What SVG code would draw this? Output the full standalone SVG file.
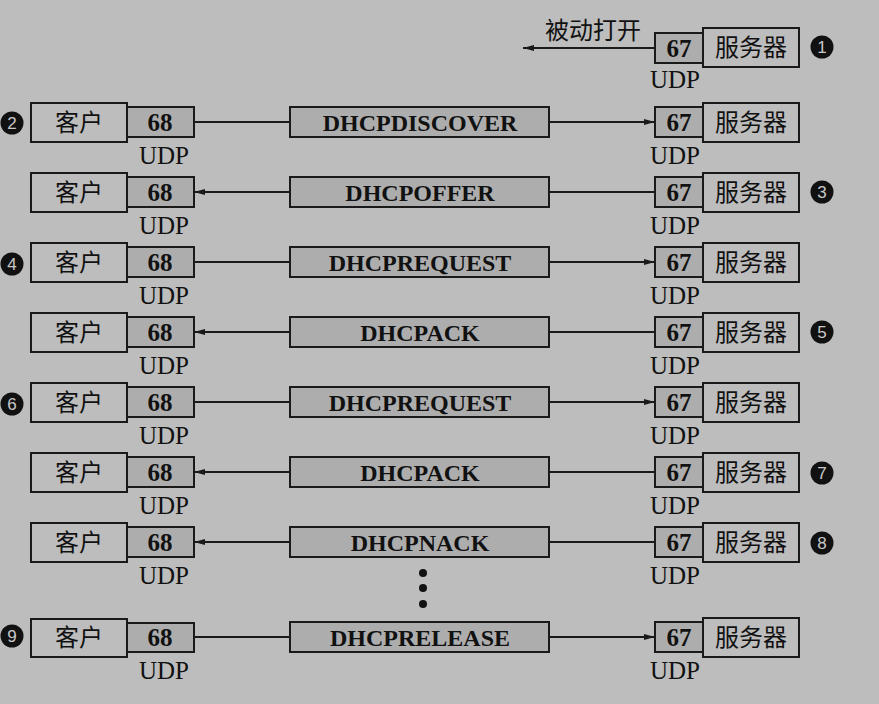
<svg xmlns="http://www.w3.org/2000/svg" width="879" height="704" viewBox="0 0 879 704">
<defs>
<style>
.bg{fill:#bdbdbd}
.box{fill:#bdbdbd;stroke:#1a1a1a;stroke-width:2}
.port{fill:#adadad;stroke:#1a1a1a;stroke-width:2}
.msg{fill:#adadad;stroke:#1a1a1a;stroke-width:2}
.ln{stroke:#1a1a1a;stroke-width:2;fill:none}
.cjk{font-family:"Noto Sans CJK SC","Noto Sans CJK JP",sans-serif;font-size:24px;fill:#111;text-anchor:middle}
.num{font-family:"Liberation Serif",serif;font-size:25px;font-weight:bold;fill:#111;text-anchor:middle}
.udp{font-family:"Liberation Serif",serif;font-size:25px;fill:#111;text-anchor:middle}
.mt{font-family:"Liberation Serif",serif;font-size:24px;font-weight:bold;fill:#111;text-anchor:middle}
.circ{fill:#111}
.cn{font-family:"Liberation Sans",sans-serif;font-size:17px;fill:#c8c8c8;text-anchor:middle}
</style>
<marker id="ah" markerUnits="userSpaceOnUse" markerWidth="12" markerHeight="8" refX="11" refY="4" orient="auto">
<path d="M0,1 L11,4 L0,7 Z" fill="#1a1a1a"/>
</marker>
</defs>
<rect class="bg" x="0" y="0" width="879" height="704"/>

<g id="connectors">
<line class="ln" x1="655" y1="48" x2="523" y2="48" marker-end="url(#ah)"/>
<line class="ln" x1="194" y1="122" x2="290" y2="122"/>
<line class="ln" x1="549" y1="122" x2="655" y2="122" marker-end="url(#ah)"/>
<line class="ln" x1="655" y1="192" x2="549" y2="192"/>
<line class="ln" x1="290" y1="192" x2="194" y2="192" marker-end="url(#ah)"/>
<line class="ln" x1="194" y1="262" x2="290" y2="262"/>
<line class="ln" x1="549" y1="262" x2="655" y2="262" marker-end="url(#ah)"/>
<line class="ln" x1="655" y1="332" x2="549" y2="332"/>
<line class="ln" x1="290" y1="332" x2="194" y2="332" marker-end="url(#ah)"/>
<line class="ln" x1="194" y1="402" x2="290" y2="402"/>
<line class="ln" x1="549" y1="402" x2="655" y2="402" marker-end="url(#ah)"/>
<line class="ln" x1="655" y1="472" x2="549" y2="472"/>
<line class="ln" x1="290" y1="472" x2="194" y2="472" marker-end="url(#ah)"/>
<line class="ln" x1="655" y1="542" x2="549" y2="542"/>
<line class="ln" x1="290" y1="542" x2="194" y2="542" marker-end="url(#ah)"/>
<line class="ln" x1="194" y1="637" x2="290" y2="637"/>
<line class="ln" x1="549" y1="637" x2="655" y2="637" marker-end="url(#ah)"/>
</g>

<g id="passive-open">
<text class="cjk" x="593" y="39">被动打开</text>
<rect class="port" x="655" y="33" width="48" height="30"/>
<text class="num" x="679" y="57">67</text>
<rect class="box" x="703" y="28" width="96" height="39"/>
<text class="cjk" x="751" y="56">服务器</text>
<text class="udp" x="675" y="88">UDP</text>
</g>

<g id="row1">
<g id="client1"><rect class="box" x="31" y="103" width="96" height="39"/><text class="cjk" x="79" y="131">客户</text></g>
<g id="cport1"><rect class="port" x="127" y="107" width="67" height="30"/><text class="num" x="160" y="131">68</text><text class="udp" x="164" y="164">UDP</text></g>
<g id="msg1"><rect class="msg" x="290" y="107" width="259" height="30"/><text class="mt" x="420" y="131">DHCPDISCOVER</text></g>
<g id="sport1"><rect class="port" x="655" y="107" width="48" height="30"/><text class="num" x="679" y="131">67</text><text class="udp" x="675" y="164">UDP</text></g>
<g id="server1"><rect class="box" x="703" y="103" width="96" height="39"/><text class="cjk" x="751" y="131">服务器</text></g>
</g>

<g id="row2">
<g id="client2"><rect class="box" x="31" y="173" width="96" height="39"/><text class="cjk" x="79" y="201">客户</text></g>
<g id="cport2"><rect class="port" x="127" y="177" width="67" height="30"/><text class="num" x="160" y="201">68</text><text class="udp" x="164" y="234">UDP</text></g>
<g id="msg2"><rect class="msg" x="290" y="177" width="259" height="30"/><text class="mt" x="420" y="201">DHCPOFFER</text></g>
<g id="sport2"><rect class="port" x="655" y="177" width="48" height="30"/><text class="num" x="679" y="201">67</text><text class="udp" x="675" y="234">UDP</text></g>
<g id="server2"><rect class="box" x="703" y="173" width="96" height="39"/><text class="cjk" x="751" y="201">服务器</text></g>
</g>

<g id="row3">
<g id="client3"><rect class="box" x="31" y="243" width="96" height="39"/><text class="cjk" x="79" y="271">客户</text></g>
<g id="cport3"><rect class="port" x="127" y="247" width="67" height="30"/><text class="num" x="160" y="271">68</text><text class="udp" x="164" y="304">UDP</text></g>
<g id="msg3"><rect class="msg" x="290" y="247" width="259" height="30"/><text class="mt" x="420" y="271">DHCPREQUEST</text></g>
<g id="sport3"><rect class="port" x="655" y="247" width="48" height="30"/><text class="num" x="679" y="271">67</text><text class="udp" x="675" y="304">UDP</text></g>
<g id="server3"><rect class="box" x="703" y="243" width="96" height="39"/><text class="cjk" x="751" y="271">服务器</text></g>
</g>

<g id="row4">
<g id="client4"><rect class="box" x="31" y="313" width="96" height="39"/><text class="cjk" x="79" y="341">客户</text></g>
<g id="cport4"><rect class="port" x="127" y="317" width="67" height="30"/><text class="num" x="160" y="341">68</text><text class="udp" x="164" y="374">UDP</text></g>
<g id="msg4"><rect class="msg" x="290" y="317" width="259" height="30"/><text class="mt" x="420" y="341">DHCPACK</text></g>
<g id="sport4"><rect class="port" x="655" y="317" width="48" height="30"/><text class="num" x="679" y="341">67</text><text class="udp" x="675" y="374">UDP</text></g>
<g id="server4"><rect class="box" x="703" y="313" width="96" height="39"/><text class="cjk" x="751" y="341">服务器</text></g>
</g>

<g id="row5">
<g id="client5"><rect class="box" x="31" y="383" width="96" height="39"/><text class="cjk" x="79" y="411">客户</text></g>
<g id="cport5"><rect class="port" x="127" y="387" width="67" height="30"/><text class="num" x="160" y="411">68</text><text class="udp" x="164" y="444">UDP</text></g>
<g id="msg5"><rect class="msg" x="290" y="387" width="259" height="30"/><text class="mt" x="420" y="411">DHCPREQUEST</text></g>
<g id="sport5"><rect class="port" x="655" y="387" width="48" height="30"/><text class="num" x="679" y="411">67</text><text class="udp" x="675" y="444">UDP</text></g>
<g id="server5"><rect class="box" x="703" y="383" width="96" height="39"/><text class="cjk" x="751" y="411">服务器</text></g>
</g>

<g id="row6">
<g id="client6"><rect class="box" x="31" y="453" width="96" height="39"/><text class="cjk" x="79" y="481">客户</text></g>
<g id="cport6"><rect class="port" x="127" y="457" width="67" height="30"/><text class="num" x="160" y="481">68</text><text class="udp" x="164" y="514">UDP</text></g>
<g id="msg6"><rect class="msg" x="290" y="457" width="259" height="30"/><text class="mt" x="420" y="481">DHCPACK</text></g>
<g id="sport6"><rect class="port" x="655" y="457" width="48" height="30"/><text class="num" x="679" y="481">67</text><text class="udp" x="675" y="514">UDP</text></g>
<g id="server6"><rect class="box" x="703" y="453" width="96" height="39"/><text class="cjk" x="751" y="481">服务器</text></g>
</g>

<g id="row7">
<g id="client7"><rect class="box" x="31" y="523" width="96" height="39"/><text class="cjk" x="79" y="551">客户</text></g>
<g id="cport7"><rect class="port" x="127" y="527" width="67" height="30"/><text class="num" x="160" y="551">68</text><text class="udp" x="164" y="584">UDP</text></g>
<g id="msg7"><rect class="msg" x="290" y="527" width="259" height="30"/><text class="mt" x="420" y="551">DHCPNACK</text></g>
<g id="sport7"><rect class="port" x="655" y="527" width="48" height="30"/><text class="num" x="679" y="551">67</text><text class="udp" x="675" y="584">UDP</text></g>
<g id="server7"><rect class="box" x="703" y="523" width="96" height="39"/><text class="cjk" x="751" y="551">服务器</text></g>
</g>

<g id="ellipsis">
<circle class="circ" cx="423" cy="573" r="4"/>
<circle class="circ" cx="423" cy="588" r="4"/>
<circle class="circ" cx="423" cy="604" r="4"/>
</g>

<g id="row8">
<g id="client8"><rect class="box" x="31" y="619" width="96" height="38"/><text class="cjk" x="79" y="646">客户</text></g>
<g id="cport8"><rect class="port" x="127" y="623" width="67" height="29"/><text class="num" x="160" y="646">68</text><text class="udp" x="164" y="679">UDP</text></g>
<g id="msg8"><rect class="msg" x="290" y="622" width="259" height="30"/><text class="mt" x="420" y="646">DHCPRELEASE</text></g>
<g id="sport8"><rect class="port" x="655" y="622" width="48" height="30"/><text class="num" x="679" y="646">67</text><text class="udp" x="675" y="679">UDP</text></g>
<g id="server8"><rect class="box" x="703" y="618" width="96" height="39"/><text class="cjk" x="751" y="646">服务器</text></g>
</g>

<g id="step-numbers">
<g id="n1"><circle class="circ" cx="822" cy="47" r="11.5"/><text class="cn" x="822" y="53">1</text></g>
<g id="n2"><circle class="circ" cx="12" cy="123" r="11.5"/><text class="cn" x="12" y="129">2</text></g>
<g id="n3"><circle class="circ" cx="822" cy="192" r="11.5"/><text class="cn" x="822" y="198">3</text></g>
<g id="n4"><circle class="circ" cx="12" cy="264" r="11.5"/><text class="cn" x="12" y="270">4</text></g>
<g id="n5"><circle class="circ" cx="822" cy="332" r="11.5"/><text class="cn" x="822" y="338">5</text></g>
<g id="n6"><circle class="circ" cx="12" cy="404" r="11.5"/><text class="cn" x="12" y="410">6</text></g>
<g id="n7"><circle class="circ" cx="822" cy="473" r="11.5"/><text class="cn" x="822" y="479">7</text></g>
<g id="n8"><circle class="circ" cx="822" cy="543" r="11.5"/><text class="cn" x="822" y="549">8</text></g>
<g id="n9"><circle class="circ" cx="12" cy="636" r="11.5"/><text class="cn" x="12" y="642">9</text></g>
</g>
</svg>
